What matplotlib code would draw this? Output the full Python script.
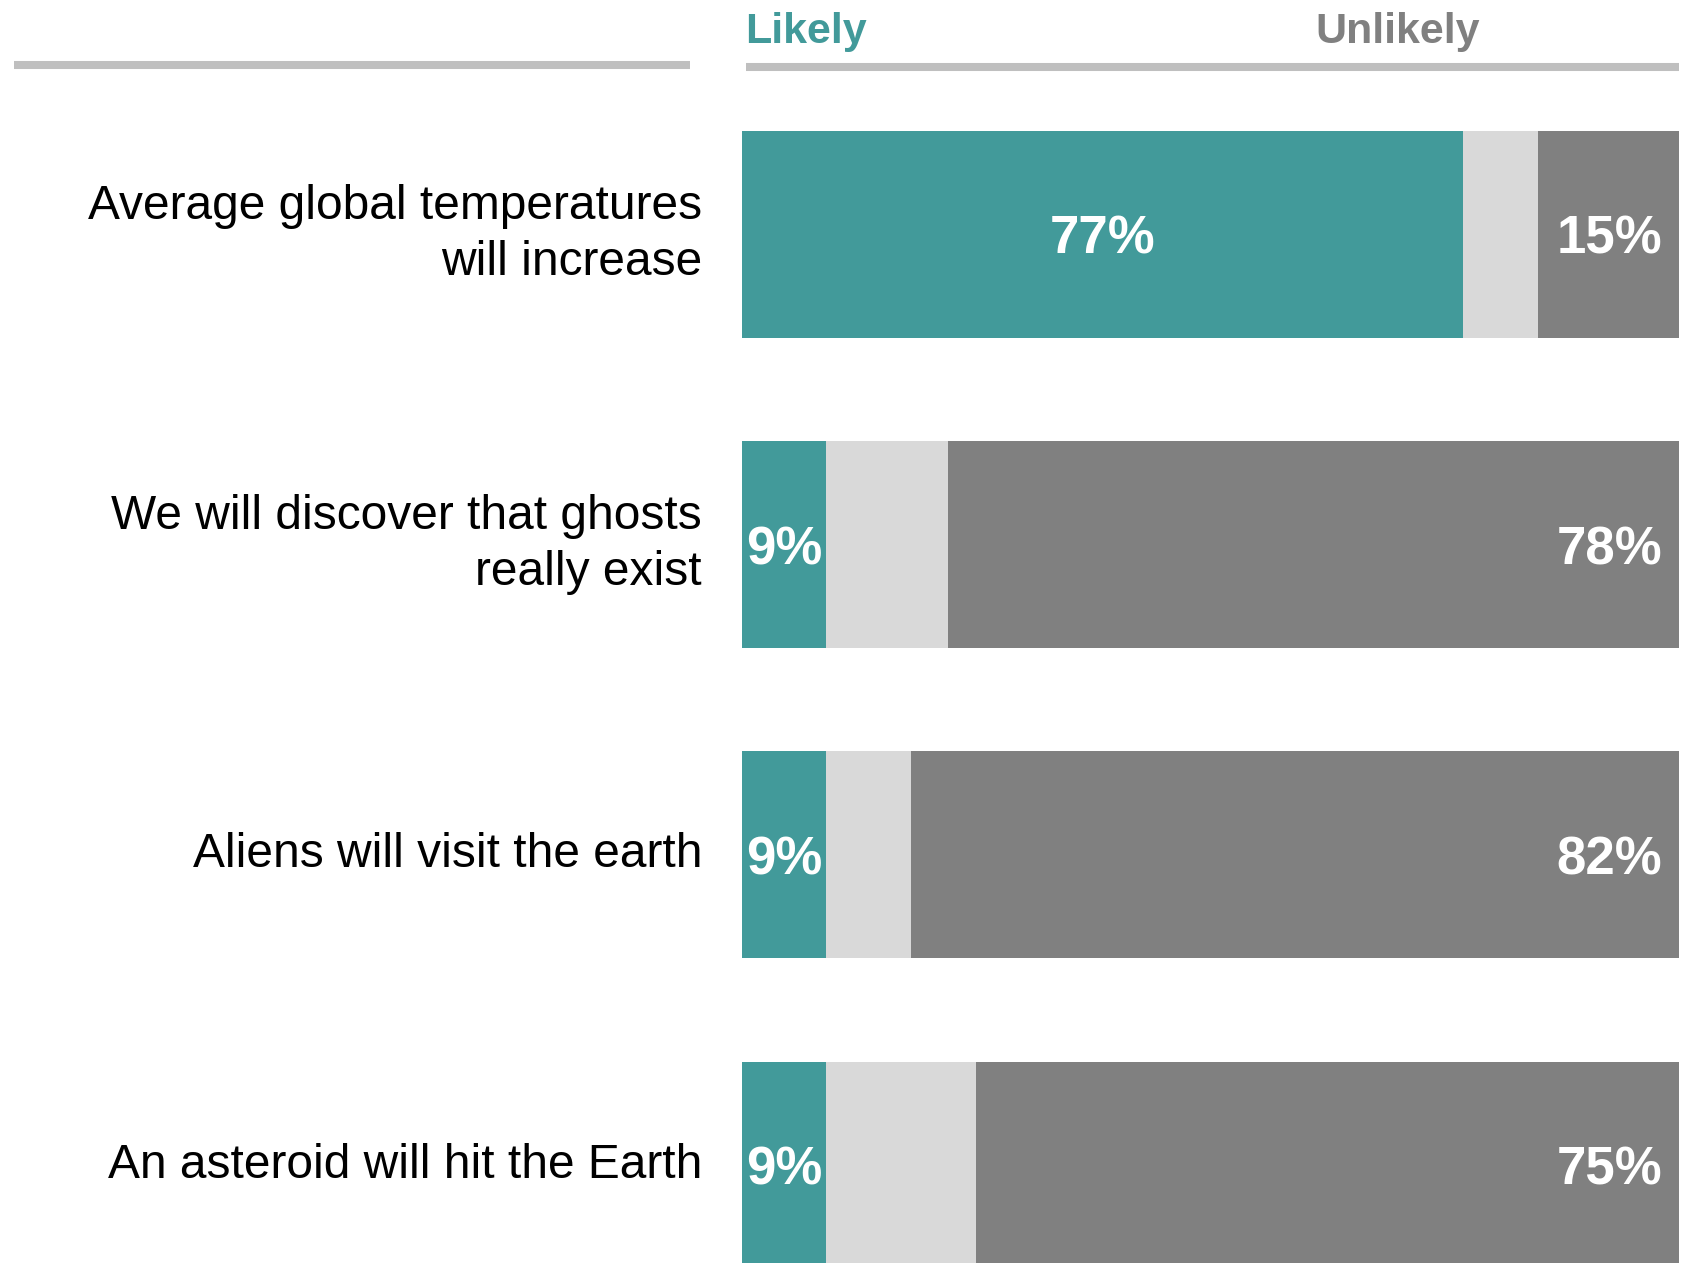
import matplotlib
matplotlib.use("Agg")
import matplotlib.pyplot as plt
from matplotlib.lines import Line2D
import matplotlib.transforms as mtransforms

# ── Data ─────────────────────────────────────────────────────────────────────
categories = [
    "Average global temperatures\nwill increase",
    "We will discover that ghosts\nreally exist",
    "Aliens will visit the earth",
    "An asteroid will hit the Earth",
]
likely = [77, 9, 9, 9]
neither = [8, 13, 9, 16]
unlikely = [15, 78, 82, 75]

TEAL = "#429A9A"
LIGHT = "#D9D9D9"
DARK = "#808080"
RULE = "#BFBFBF"

plt.rcParams["font.family"] = ["Liberation Sans", "DejaVu Sans"]

W, H = 1694, 1263
fig = plt.figure(figsize=(W / 100, H / 100), dpi=100)

# bar area: x from 742 to 1679 px, top of first bar at 131 px
ax = fig.add_axes([742 / W, 0, (1679 - 742) / W, 1 - 131 / H])
ypos = list(range(len(categories)))
bh = 0.667
pitch = 310.2
ax.set_xlim(0, 100)
ax.set_ylim((H - 234.5) / pitch, -bh / 2)
ax.axis("off")

left2 = [a + b for a, b in zip(likely, neither)]
ax.barh(ypos, likely, height=bh, color=TEAL, linewidth=0)
ax.barh(ypos, neither, left=likely, height=bh, color=LIGHT, linewidth=0)
ax.barh(ypos, unlikely, left=left2, height=bh, color=DARK, linewidth=0)

for y, l, u in zip(ypos, likely, unlikely):
    ax.text(l / 2, y, f"{l}%", ha="center", va="center_baseline", color="white",
            fontsize=38, fontweight="bold")
    ax.text(98.2, y, f"{u}%", ha="right", va="center_baseline", color="white",
            fontsize=38, fontweight="bold")

# category labels, right aligned left of the bars
trans = mtransforms.blended_transform_factory(fig.transFigure, ax.transData)
for y, c in zip(ypos, categories):
    ax.text(702 / W, y, c, transform=trans, ha="right", va="center",
            fontsize=34.5, color="black", linespacing=1.32)

# header rules and titles
fig.add_artist(Line2D([14 / W, 690 / W], [1 - 65 / H, 1 - 65 / H],
                      color=RULE, lw=5.8, solid_capstyle="butt"))
fig.add_artist(Line2D([746 / W, 1679 / W], [1 - 67 / H, 1 - 67 / H],
                      color=RULE, lw=5.8, solid_capstyle="butt"))
fig.text(745 / W, 1 - 43 / H, "Likely", color=TEAL, fontsize=31,
         fontweight="bold", ha="left", va="baseline")
fig.text(1315 / W, 1 - 43 / H, "Unlikely", color=DARK, fontsize=31,
         fontweight="bold", ha="left", va="baseline")

fig.savefig("out.png", dpi=100, facecolor="white")
